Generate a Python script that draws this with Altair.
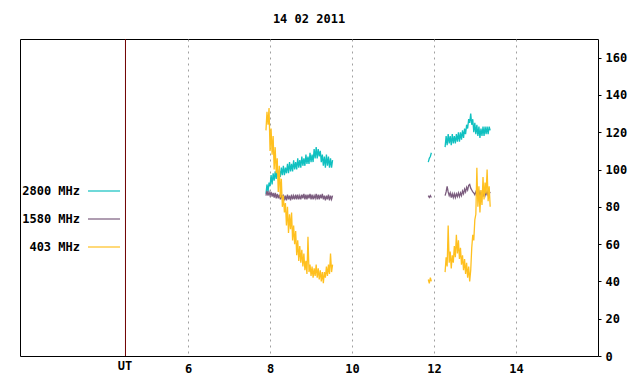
import altair as alt
import pandas as pd

# ---- data ----
step = 0.025                      # sampling step in hours
seg1_start = 7.90
seg2_start = 12.27
blip_times = [11.86, 11.885, 11.91, 11.935]

mhz2800_seg1 = [87, 92, 88, 93, 91, 97, 92, 98, 94, 99,
                95, 100, 96, 100, 96, 101, 97, 102, 97, 101,
                98, 103, 98, 104, 99, 103, 99, 105, 100, 104,
                100, 106, 101, 105, 101, 107, 102, 106, 102, 108,
                103, 107, 103, 109, 104, 108, 104, 111, 106, 112,
                106, 111, 107, 110, 104, 108, 102, 107, 101, 108,
                102, 107, 101, 106, 101, 105]
mhz1580_seg1 = [86, 88.5, 86, 88, 86, 88, 85.5, 87.5, 85, 87.5,
                84.5, 87, 84.5, 86.5, 84, 86.5, 84, 86.5, 83.5, 86,
                83.5, 86.5, 84, 86, 83.5, 86.5, 84, 86, 84, 86.5,
                84, 86.5, 84, 86, 84, 86.5, 84.5, 87, 84, 86.5,
                84, 86.5, 84.5, 87, 84, 86.5, 84, 86, 84.5, 87,
                84, 86.5, 84, 86.5, 84.5, 87, 84, 86, 83.5, 86,
                84, 86.5, 83.5, 86, 84, 86]
mhz403_seg1 = [121, 131, 124, 133, 110, 122, 108, 118, 100, 112,
               98, 106, 88, 102, 85, 95, 80, 86, 77, 82,
               70, 80, 66, 76, 68, 77, 62, 70, 60, 67,
               54, 62, 51, 59, 50, 57, 48, 55, 46, 51,
               44, 64, 45, 49, 43, 48, 42, 47, 43, 49,
               42, 47, 41, 46, 40, 45, 39, 45, 42, 48,
               43, 49, 44, 55, 45, 49]

mhz2800_blip = [104, 106, 107, 109]
mhz1580_blip = [86, 85, 86, 85]
mhz403_blip = [41, 39, 42, 40]

mhz2800_seg2 = [112, 118, 113, 119, 114, 118, 113, 119, 114, 118,
                114, 119, 115, 120, 115, 120, 116, 121, 117, 122,
                119, 124, 122, 127, 125, 130, 124, 127, 120, 125,
                119, 124, 118, 123, 117, 122, 118, 123, 118, 123,
                119, 123, 119, 123, 121]
mhz1580_seg2 = [86, 88, 91, 88, 86, 87.5, 85, 87, 85, 87,
                85, 87, 85.5, 87.5, 85.5, 87.5, 86, 88.5, 87, 89.5,
                88, 90.5, 89, 91.5, 92, 90, 89, 88, 87.5, 86.5,
                88, 86.5, 87.5, 86, 88, 86, 87.5, 85.5, 88, 86,
                88, 86.5, 88.5, 87, 88]
mhz403_seg2 = [45, 53, 48, 70, 50, 56, 47, 54, 50, 59,
               53, 65, 55, 62, 52, 58, 49, 54, 46, 52,
               44, 50, 42, 48, 40, 46, 58, 65, 62, 73,
               76, 101, 80, 91, 77, 89, 81, 96, 84, 93,
               87, 100, 83, 91, 80]

series_names = ["2800 MHz", "1580 MHz", "403 MHz"]
series_colors = ["#10c0c0", "#7b5c7e", "#ffc020"]
y_ticks = [0, 20, 40, 60, 80, 100, 120, 140, 160]
x_ticks = [6, 8, 10, 12, 14]
ut_line = [4.473]
title_text = "14 02 2011"

# ---- build table ----
rows = []
def add(name, seg, t0, vals, times=None):
    for i, v in enumerate(vals):
        t = times[i] if times is not None else t0 + i * step
        rows.append({"t": t, "v": v, "series": name, "seg": seg})

add("2800 MHz", 1, seg1_start, mhz2800_seg1)
add("1580 MHz", 1, seg1_start, mhz1580_seg1)
add("403 MHz", 1, seg1_start, mhz403_seg1)
add("2800 MHz", 2, None, mhz2800_blip, blip_times)
add("1580 MHz", 2, None, mhz1580_blip, blip_times)
add("403 MHz", 2, None, mhz403_blip, blip_times)
add("2800 MHz", 3, seg2_start, mhz2800_seg2)
add("1580 MHz", 3, seg2_start, mhz1580_seg2)
add("403 MHz", 3, seg2_start, mhz403_seg2)
df = pd.DataFrame(rows)

FONT = "DejaVu Sans Mono"

xscale = alt.Scale(domain=[1.9, 16], nice=False, zero=False)
yscale = alt.Scale(domain=[0, 170], nice=False)
cscale = alt.Scale(domain=series_names, range=series_colors)

xaxis = alt.Axis(values=x_ticks, title=None, grid=True, gridDash=[2, 4],
                 gridColor="#a0a0a0", gridWidth=1, domain=False, tickSize=0,
                 labelPadding=7, labelFont=FONT, labelFontSize=12,
                 labelFontWeight="bold", labelColor="black", labelFlush=False)
yaxis = alt.Axis(orient="right", values=y_ticks, title=None, grid=False,
                 domain=False, tickSize=3, tickColor="black", labelPadding=4,
                 labelFont=FONT, labelFontSize=12, labelFontWeight="bold",
                 labelColor="black")

base = alt.Chart(df)

ut_rule = alt.Chart(pd.DataFrame({"t": ut_line})).mark_rule(
    color="#700000", strokeWidth=1).encode(
    x=alt.X("t:Q", scale=xscale, axis=xaxis))

lines = []
for name in series_names:
    lines.append(
        base.transform_filter(alt.datum.series == name).mark_line(
            strokeWidth=1.3, interpolate="linear").encode(
            x=alt.X("t:Q", scale=xscale, axis=xaxis),
            y=alt.Y("v:Q", scale=yscale, axis=yaxis),
            color=alt.Color("series:N", scale=cscale, legend=None),
            detail="seg:N",
            order="t:Q",
        )
    )

legend_y = [152, 180, 208]
legend_layers = []
for name, color, ly in zip(series_names, series_colors, legend_y):
    d = pd.DataFrame({"label": [name]})
    legend_layers.append(
        alt.Chart(d).mark_text(align="right", baseline="middle", font=FONT,
                               fontSize=12, fontWeight="bold", color="black").encode(
            x=alt.value(60), y=alt.value(ly), text="label:N"))
    legend_layers.append(
        alt.Chart(d).mark_rule(color=color, strokeWidth=1.2).encode(
            x=alt.value(68), x2=alt.value(100), y=alt.value(ly)))

ut_text = alt.Chart(pd.DataFrame({"label": ["UT"]})).mark_text(
    align="center", baseline="middle", font=FONT, fontSize=12,
    fontWeight="bold", color="black").encode(
    x=alt.value(105), y=alt.value(327), text="label:N")

chart = alt.layer(ut_rule, *lines, *legend_layers, ut_text).properties(
    width=578, height=317,
    background="white",
    title=alt.TitleParams(title_text, font=FONT, fontSize=12, fontWeight="bold",
                          anchor="middle", offset=13, color="black"),
    autosize=alt.AutoSizeParams(type="none"),
    padding={"left": 12, "top": 31, "right": 34, "bottom": 20},
).configure_view(stroke="black", strokeWidth=1)

chart.save("out.html", embed_options={"renderer": "svg", "actions": False})
